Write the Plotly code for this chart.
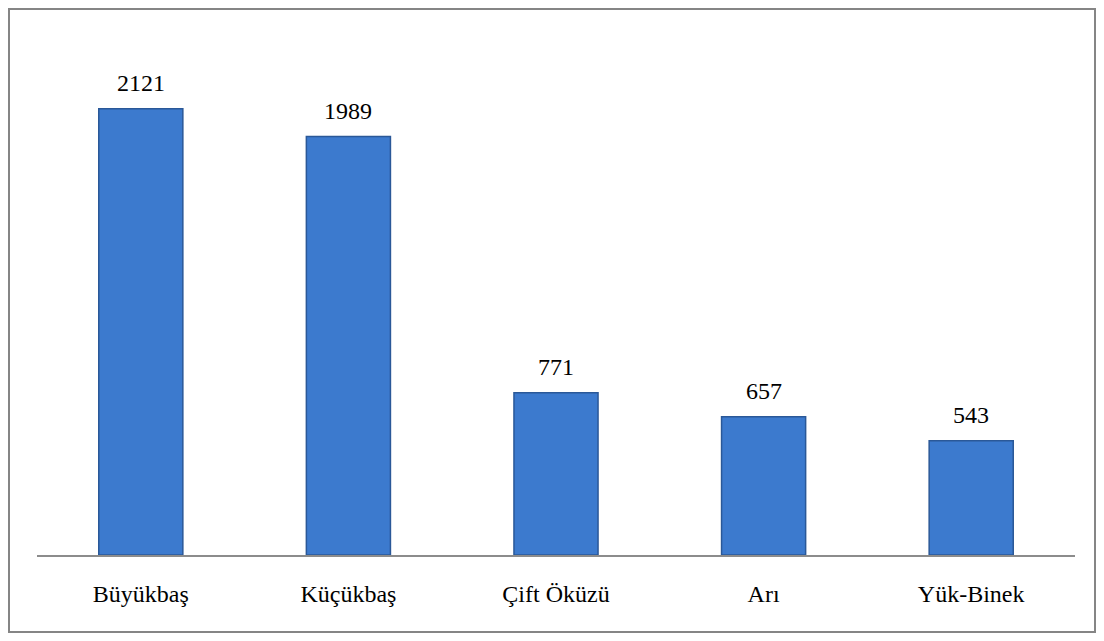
import plotly.graph_objects as go

categories = ["Büyükbaş", "Küçükbaş", "Çift Öküzü", "Arı", "Yük-Binek"]
values = [2121, 1989, 771, 657, 543]

OFF = 8  # page body margin
W, H = 1104 - 2 * OFF, 641 - 2 * OFF
L = 37 - OFF
T = 29 - OFF
R = W - (1075 - OFF)
B = H - (555 - OFF)
pw, ph = W - L - R, H - T - B

def px_x(px):
    return (px - OFF - L) / pw

def px_y(py):
    return (H - B - (py - OFF)) / ph

SERIF = "Liberation Serif, Times New Roman, DejaVu Serif, serif"

fig = go.Figure()
fig.add_trace(go.Bar(
    x=categories, y=values,
    marker=dict(color="#3c7ace", line=dict(color="#2a5898", width=1.5)),
    hoverinfo="x+y",
))

for c, v in zip(categories, values):
    fig.add_annotation(x=c, y=v, text=str(v), showarrow=False,
                       yanchor="bottom", yshift=11,
                       font=dict(family=SERIF, size=24, color="#000000"))

fig.add_shape(type="rect", xref="paper", yref="paper",
              x0=px_x(9), x1=px_x(1095), y0=px_y(632), y1=px_y(9),
              line=dict(color="#858585", width=2), fillcolor="rgba(0,0,0,0)", layer="below")

fig.update_layout(
    width=W, height=H,
    margin=dict(l=L, r=R, t=T, b=B, pad=0),
    paper_bgcolor="white", plot_bgcolor="white",
    bargap=0.595,
    showlegend=False,
    font=dict(family=SERIF, size=24, color="#000000"),
    xaxis=dict(showline=True, linecolor="#8c8c8c", linewidth=1.5, ticks="",
               showgrid=False, ticklabelstandoff=16,
               tickfont=dict(family=SERIF, size=24, color="#000000")),
    yaxis=dict(range=[0, 2500], visible=False, showgrid=False, zeroline=False),
)

fig.write_html("out.html")
